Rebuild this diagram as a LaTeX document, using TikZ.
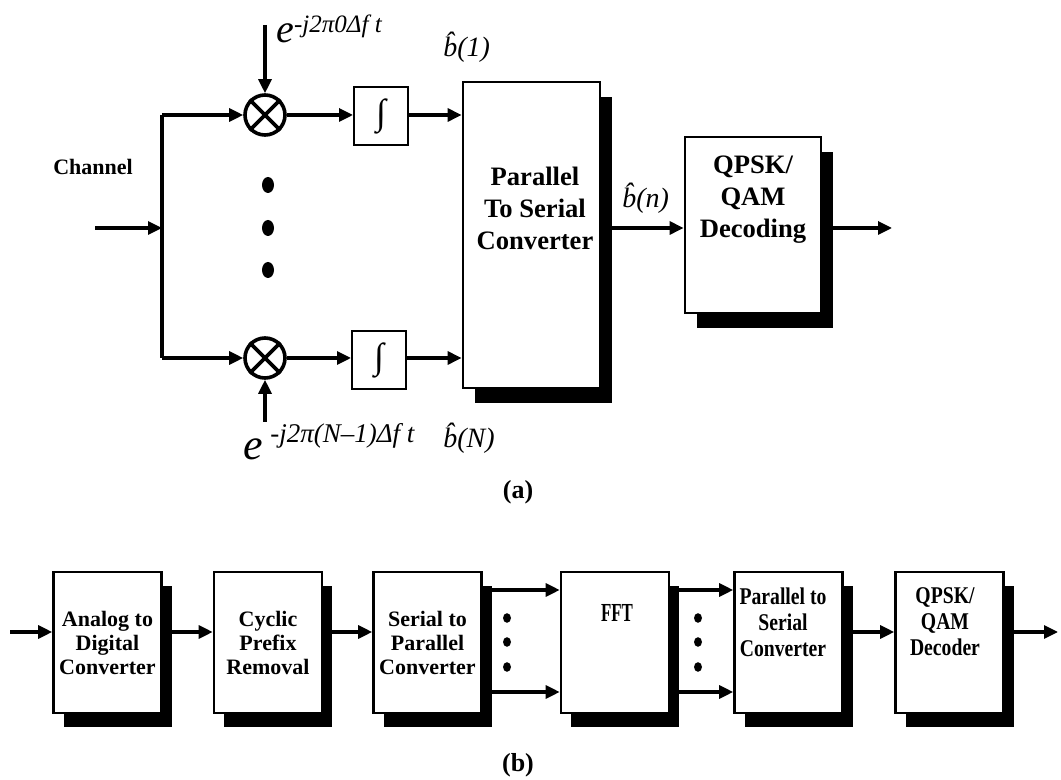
\documentclass[tikz,border=0pt]{standalone}
\usepackage{fontspec}
\setmainfont{Liberation Serif}
\usepackage{graphicx}
\usetikzlibrary{arrows.meta,shadows,calc}

\begin{document}
\begin{tikzpicture}[x=0.5pt, y=-0.5pt,
    every node/.style={font=\bfseries, align=center},
    arr/.style={-{Triangle[length=7pt,width=6.5pt]}, line width=1.6pt},
    blkbase/.style={rectangle, draw, fill=white, inner sep=0pt},
    blkA/.style={blkbase, line width=1.4pt, drop shadow={shadow xshift=6pt, shadow yshift=-7.5pt, fill=black, opacity=1}},
    blkB/.style={blkbase, line width=1.3pt, minimum width=54pt, minimum height=70.5pt, drop shadow={shadow xshift=5pt, shadow yshift=-7pt, fill=black, opacity=1}},
    intbox/.style={rectangle, draw, line width=1pt, minimum width=27pt, minimum height=29pt, inner sep=0pt, font=\bfseries\fontsize{18}{18}\selectfont},
    mult/.style={circle, draw, line width=1.8pt, minimum size=20pt, inner sep=0pt},
    lbl/.style={anchor=base west, inner sep=0pt, font=\mdseries\itshape\fontsize{14}{14}\selectfont},
    txtA/.style={font=\bfseries\fontsize{13.3}{16}\selectfont},
    txtB/.style={font=\bfseries\fontsize{11}{12}\selectfont},
    txtN/.style={font=\bfseries\fontsize{12}{13}\selectfont, xscale=0.82}
]
\useasboundingbox (0,0) rectangle (1061,780);

% (a) correlator receiver
\node[font=\bfseries\fontsize{11}{12}\selectfont] (chan) at (93,167) {Channel};
\coordinate (in) at (95,228);
\coordinate (split) at (162,228);
\node[mult] (m1) at (265,115) {};
\node[mult] (m2) at (265,358) {};
\draw[line width=1.8pt] (m1.45) -- (m1.225) (m1.135) -- (m1.315);
\draw[line width=1.8pt] (m2.45) -- (m2.225) (m2.135) -- (m2.315);
\foreach \y in {185,228,270}
    \fill (268,\y) ellipse [x radius=3pt, y radius=4pt];
\node[intbox] (int1) at (381,116) {∫};
\node[intbox] (int2) at (379,360) {∫};
\node[blkA, minimum width=68.5pt, minimum height=153pt] (ps) at (531.5,235) {};
\node[txtA] (pstxt) at (535,208) {Parallel\\To Serial\\Converter};
\node[blkA, minimum width=68pt, minimum height=88pt] (dec) at (753,225) {};
\node[txtA] (dectxt) at (753,200) {QPSK/\\QAM\\Decoding};
\coordinate (lo1) at (265,25);
\coordinate (lo2) at (265,422);
\coordinate (out) at (892,228);

\draw[arr] (in) -- (split);
\draw[line width=1.6pt] (split |- m1) -- (split |- m2);
\draw[arr] (split |- m1) -- (m1);
\draw[arr] (split |- m2) -- (m2);
\draw[arr] (lo1) -- (m1);
\draw[arr] (lo2) -- (m2);
\draw[arr] (m1) -- (m1 -| int1.west);
\draw[arr] (m2) -- (m2 -| int2.west);
\draw[arr] (int1.east |- m1) -- (m1 -| ps.west);
\draw[arr] (int2.east |- m2) -- (m2 -| ps.west);
\draw[arr] (ps.east |- out) -- (dec.west |- out);
\draw[arr] (dec.east |- out) -- (out);

% labels
\node[lbl, font=\mdseries\itshape\fontsize{20}{20}\selectfont] (ltop) at (276,43)
    {e\raisebox{5pt}{\fontsize{12.5}{12.5}\selectfont -j2π0Δf t}};
\node[lbl, font=\mdseries\itshape\fontsize{22}{22}\selectfont] (lbot) at (243,460)
    {e\,\raisebox{8.5pt}{\fontsize{13.5}{13.5}\selectfont -j2π(N–1)Δf t}};
\node[lbl] (b1) at (443,57) {\^{b}(1)};
\node[lbl] (bn) at (622,208) {\^{b}(n)};
\node[lbl] (bN) at (443,448) {\^{b}(N)};
\node[font=\bfseries\fontsize{13}{14}\selectfont] (capa) at (518,492) {(a)};

% (b) OFDM receiver
\coordinate (in2) at (10,632);
\coordinate (ptop) at (0,590);
\coordinate (pbot) at (0,692);
\coordinate (out2) at (1058,632);
\node[blkB, txtB] (adc) at (107.5,642.5) {Analog to\\Digital\\Converter};
\node[blkB, txtB] (cpr) at (268,642.5) {Cyclic\\Prefix\\Removal};
\node[blkB, txtB] (sp) at (427.5,642.5) {Serial to\\Parallel\\Converter};
\node[blkB] (fft) at (615,642.5) {};
\node[font=\bfseries\fontsize{13}{14}\selectfont, xscale=0.65] (ffttxt) at (617,613) {FFT};
\node[blkB] (ps2) at (788.5,642.5) {};
\node[txtN] (ps2txt) at (783,622) {Parallel to\\Serial\\Converter};
\node[blkB] (dec2) at (949.5,642.5) {};
\node[txtN] (dec2txt) at (945,622) {QPSK/\\QAM\\Decoder};

\draw[arr] (in2) -- (in2 -| adc.west);
\draw[arr] (adc.east |- in2) -- (cpr.west |- in2);
\draw[arr] (cpr.east |- in2) -- (sp.west |- in2);
\draw[arr] (sp.east |- ptop) -- (fft.west |- ptop);
\draw[arr] (sp.east |- pbot) -- (fft.west |- pbot);
\draw[arr] (fft.east |- ptop) -- (ps2.west |- ptop);
\draw[arr] (fft.east |- pbot) -- (ps2.west |- pbot);
\draw[arr] (ps2.east |- in2) -- (dec2.west |- in2);
\draw[arr] (dec2.east |- in2) -- (out2);
\foreach \x in {507,698}
    \foreach \y in {618,642,667}
        \fill (\x,\y) ellipse [x radius=2pt, y radius=2.4pt];
\node[font=\bfseries\fontsize{13}{14}\selectfont] (capb) at (518,765) {(b)};

\end{tikzpicture}
\end{document}
